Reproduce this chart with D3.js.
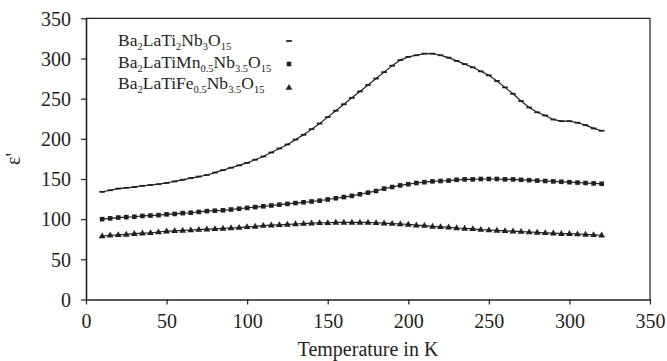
<!DOCTYPE html>
<html><head><meta charset="utf-8">
<script src="https://cdn.jsdelivr.net/npm/d3@7"></script>
<style>
body{margin:0;background:#fff}
svg{display:block}
text{font-family:"Liberation Serif","Times New Roman",serif;fill:#231f20}
</style>
</head><body>
<svg id="chart" width="667" height="361"></svg>
<script>
// ---- data ----
const temperature = [10,15,20,25,30,35,40,45,50,55,60,65,70,75,80,85,90,95,100,105,110,115,120,125,130,135,140,145,150,155,160,165,170,175,180,185,190,195,200,205,210,215,220,225,230,235,240,245,250,255,260,265,270,275,280,285,290,295,300,305,310,315,320];
const epsTi2Nb3 = [134,136,138,139,140,141.5,142.5,143.5,145,147,149,151,153,155,158,161,164,167,170,174,178,183,188,193,199,205,212,219,227,235,243,251,259,267,275,283,291,298,302,304,306,306,304,301,297,293,289,284,279,272,264,256,247,239,233,229,224,222,222,220,217,213,210];
const epsMn = [100,101,102,102.5,103,104,104.5,105,106,106.5,107.5,108,109,110,110.5,111,112,113,114,115,116,117,118,119,120,121,122,123,124.5,126,127.5,129,131,133,135,138,140,142,143.5,145,146,147,147.5,148,149,149.5,149.5,150,150,150,149.5,149.5,149,148.5,148,147.5,147,146.5,146,145.5,145,144.5,144];
const epsFe = [79,80,80.5,81,82,82.5,83,84,85,85.5,86,86.5,87,87.5,88,88.5,89,89.5,90.5,91,92,92.5,93,93.5,94,94.5,95,95.5,95.5,96,96,96,96,96,95.5,95,94.5,94,93.5,92.5,92,91,90.5,90,89,88.5,88,87,86.5,86,85.5,85,84.5,84,83.5,83,82.5,82,82,81.5,81,80.5,80];
const xTicks = [0,50,100,150,200,250,300,350];
const yTicks = [0,50,100,150,200,250,300,350];
const xTitle = "Temperature in K";
const yTitle = "ε'";
// legend labels as [text, isSubscript]
const legendTi2 = [["Ba",0],["2",1],["LaTi",0],["2",1],["Nb",0],["3",1],["O",0],["15",1]];
const legendMn  = [["Ba",0],["2",1],["LaTiMn",0],["0.5",1],["Nb",0],["3.5",1],["O",0],["15",1]];
const legendFe  = [["Ba",0],["2",1],["LaTiFe",0],["0.5",1],["Nb",0],["3.5",1],["O",0],["15",1]];

const series = [
  {values: epsTi2Nb3, marker: "dash", label: legendTi2},
  {values: epsMn, marker: "square", label: legendMn},
  {values: epsFe, marker: "triangle", label: legendFe}
];

// ---- layout ----
const ink = "#231f20";
const svg = d3.select("#chart");
const pLeft = 86, pRight = 650, pTop = 18.3, pBottom = 299.5;
const x = d3.scaleLinear().domain([0,350]).range([pLeft,pRight]);
const y = d3.scaleLinear().domain([0,350]).range([pBottom,pTop]);
const serif = '"Liberation Serif","Times New Roman",serif';

// frame (top and right)
svg.append("path")
  .attr("d", `M${pLeft},${pTop}H${pRight}V${pBottom}`)
  .attr("fill","none").attr("stroke",ink).attr("stroke-width",1.2);

// axes
const gx = svg.append("g").attr("transform",`translate(0,${pBottom})`)
  .call(d3.axisBottom(x).tickValues(xTicks).tickSize(5).tickSizeOuter(0).tickPadding(9));
const gy = svg.append("g").attr("transform",`translate(${pLeft},0)`)
  .call(d3.axisLeft(y).tickValues(yTicks).tickSize(5).tickSizeOuter(0).tickPadding(10));
[gx,gy].forEach(g=>{
  g.attr("font-family", serif);
  g.select(".domain").attr("stroke",ink).attr("stroke-width",1.6);
  g.selectAll(".tick line").attr("stroke",ink).attr("stroke-width",1.2);
  g.selectAll(".tick text").attr("fill",ink).style("font-size","20px").style("font-family",serif);
});
gx.selectAll(".tick text").attr("dy","0.71em");
gy.selectAll(".tick text").attr("dy","0.34em");

// titles
svg.append("text").attr("x",(pLeft+pRight)/2).attr("y",356)
  .attr("text-anchor","middle").style("font-size","20px").style("font-family",serif).text(xTitle);
svg.append("text").attr("transform",`translate(20,${(pTop+pBottom)/2}) rotate(-90)`)
  .attr("text-anchor","middle").style("font-size","20px").style("font-family",serif).text(yTitle);

// lines and markers
const line = d3.line().x((d,i)=>x(temperature[i])).y(d=>y(d));
const triangle = d3.symbol().type(d3.symbolTriangle).size(20);

function drawMarker(g, type, cx, cy){
  if(type==="dash"){
    g.append("rect").attr("x",cx-2.8).attr("y",cy-0.9).attr("width",5.6).attr("height",1.8).attr("fill",ink);
  } else if(type==="square"){
    g.append("rect").attr("x",cx-2.3).attr("y",cy-2.3).attr("width",4.6).attr("height",4.6).attr("fill",ink);
  } else {
    g.append("path").attr("d",triangle()).attr("transform",`translate(${cx},${cy+0.3})`).attr("fill",ink);
  }
}

series.forEach(s=>{
  svg.append("path").datum(s.values).attr("d",line)
    .attr("fill","none").attr("stroke",ink).attr("stroke-width",1.2);
  const g = svg.append("g");
  s.values.forEach((v,i)=>drawMarker(g, s.marker, x(temperature[i]), y(v)));
});

// legend
const legendX = 118, legendBase = [46, 67.5, 89], markerX = 289, markerDy = [-5, -3.5, -1.5];
series.forEach((s,k)=>{
  const t = svg.append("text").attr("x",legendX).attr("y",legendBase[k])
    .style("font-size","17.5px").style("font-family",serif);
  let prevSub = false;
  s.label.forEach(([txt,sub])=>{
    const ts = t.append("tspan").text(txt);
    if(sub){ ts.style("font-size","10.5px"); if(!prevSub) ts.attr("dy",4); }
    else if(prevSub){ ts.attr("dy",-4); }
    prevSub = !!sub;
  });
  drawMarker(svg, s.marker, markerX, legendBase[k] + markerDy[k]);
});
</script>
</body></html>
